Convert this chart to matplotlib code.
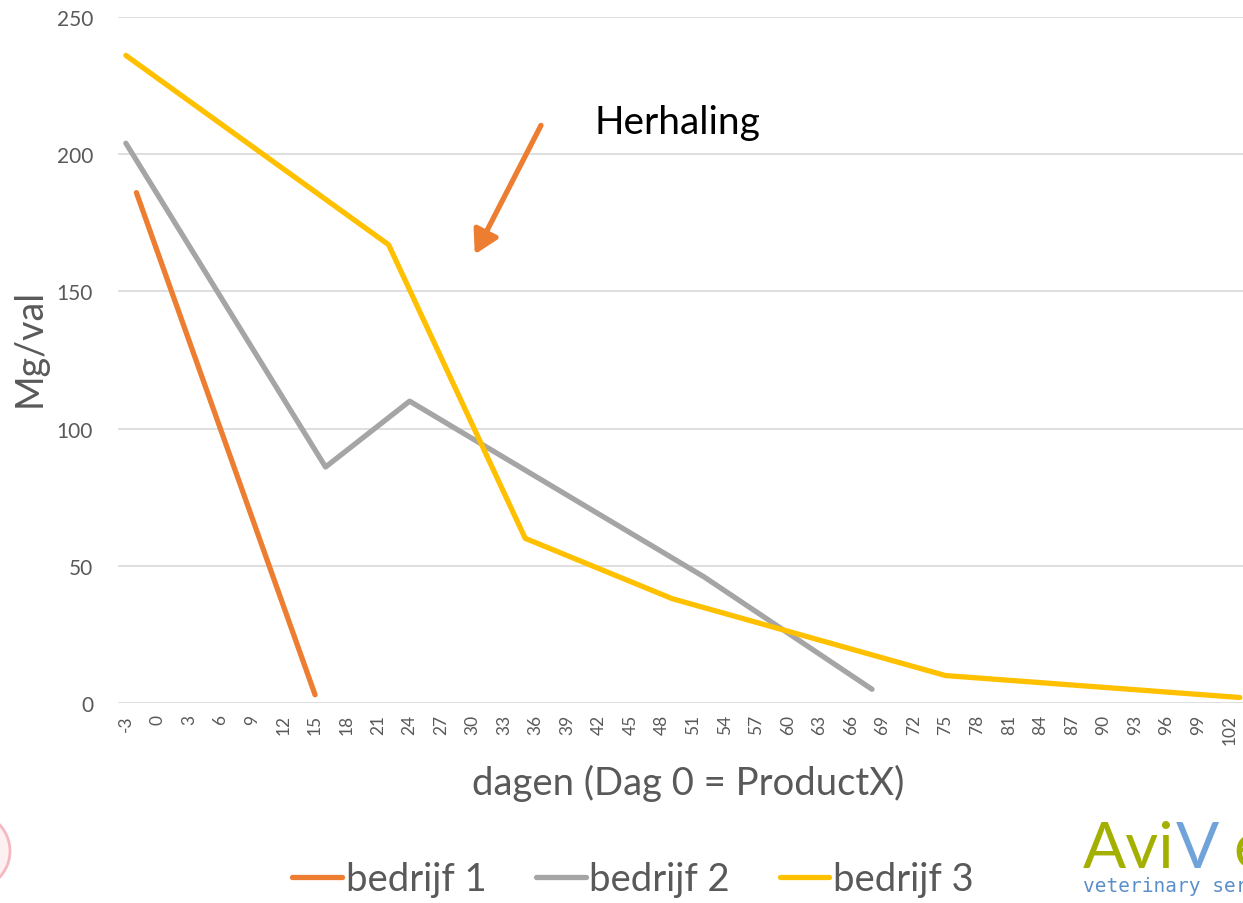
import matplotlib.pyplot as plt
from matplotlib.patches import Ellipse

plt.rcParams['font.family'] = ['Lato', 'DejaVu Sans']

# data (day, mg/val)
dagen_1 = [-2, 15]
mg_1 = [186, 3]
dagen_2 = [-3, 16, 24, 52, 68]
mg_2 = [204, 86, 110, 46, 5]
dagen_3 = [-3, 22, 35, 49, 75, 103]
mg_3 = [236, 167, 60, 38, 10, 2]

x_ticks = list(range(-3, 103, 3))
y_ticks = [0, 50, 100, 150, 200, 250]
series_names = ['bedrijf 1', 'bedrijf 2', 'bedrijf 3']
colors = ['#ED7D31', '#A5A5A5', '#FFC000']

fig = plt.figure(figsize=(12.43, 9.04), dpi=100)
ax = fig.add_axes([118 / 1243, 1 - 704 / 904, 1 - 118 / 1243, (704 - 18) / 904])

ax.plot(dagen_1, mg_1, color=colors[0], lw=3.8, solid_capstyle='round', label=series_names[0])
ax.plot(dagen_2, mg_2, color=colors[1], lw=3.8, solid_capstyle='round', label=series_names[1])
ax.plot(dagen_3, mg_3, color=colors[2], lw=3.8, solid_capstyle='round', label=series_names[2])

ax.set_xlim(-3.75, 103.3)
ax.set_ylim(0, 250)
ax.set_xticks(x_ticks)
ax.set_xticklabels([str(t) for t in x_ticks], rotation=90, fontsize=12.5, color='#595959')
ax.set_yticks(y_ticks)
ax.set_yticklabels([str(t) for t in y_ticks], fontsize=15, color='#595959')
ax.tick_params(axis='y', length=0, pad=18)
ax.tick_params(axis='x', length=0, pad=8)
ax.grid(axis='y', color='#d9d9d9', lw=1.2)
ax.set_axisbelow(True)
for s in ax.spines.values():
    s.set_visible(False)

fig.text(30 / 1243, 1 - 348 / 904, 'Mg/val', fontsize=27, color='#595959',
         rotation=90, ha='center', va='center')
fig.text(688 / 1243, 1 - 783 / 904, 'dagen (Dag 0 = ProductX)', fontsize=27.5,
         color='#595959', ha='center', va='center')

# annotatie
fig.text(677 / 1243, 1 - 123 / 904, 'Herhaling', fontsize=28, color='black',
         ha='center', va='center')
ax.annotate('', xy=(30.2, 163.5), xytext=(36.5, 210.5),
            arrowprops=dict(arrowstyle='-|>,head_length=1.4,head_width=0.8',
                            color='#ED7D31', lw=3.8, shrinkA=0, shrinkB=0))

fig.legend(loc='center', bbox_to_anchor=(633 / 1243, 1 - 880 / 904), ncol=3,
           frameon=False, fontsize=27.5, handlelength=1.3, handletextpad=0.1,
           columnspacing=1.3, labelcolor='#595959')

# logo stukjes
fig.text(1083 / 1243, 1 - 868 / 904, 'Avi', fontsize=46, color='#a4b000', va='baseline')
fig.text(1176 / 1243, 1 - 868 / 904, 'V', fontsize=46, color='#6fa3da', va='baseline')
fig.text(1233 / 1243, 1 - 868 / 904, 'e', fontsize=46, color='#a4b000', va='baseline')
fig.text(1083 / 1243, 1 - 892 / 904, 'veterinary ser', fontsize=14, color='#5b8fc9',
         va='baseline', family=['DejaVu Sans Mono'])
fig.patches.append(Ellipse((-30 / 1243, 1 - 852 / 904), 80 / 1243, 78 / 904,
                           transform=fig.transFigure, facecolor='#fdf0f1',
                           edgecolor='#f5b8c0', lw=2))

fig.savefig('out.png', dpi=100)
